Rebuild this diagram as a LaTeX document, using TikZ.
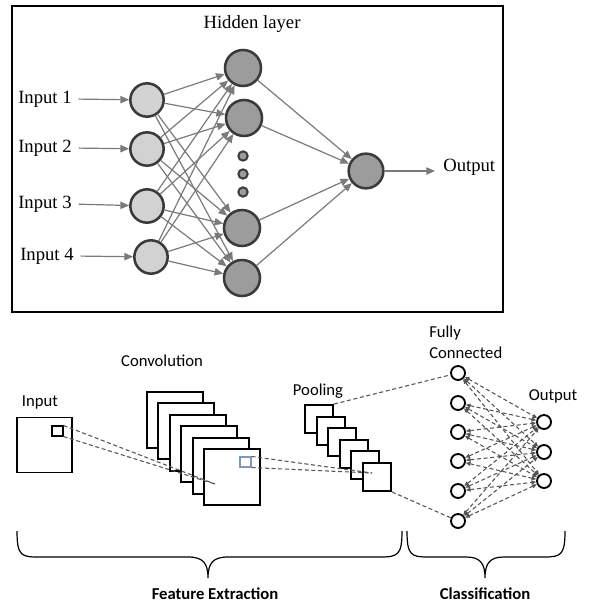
\documentclass[tikz,border=0pt]{standalone}
\usepackage{fontspec}
\setmainfont{Liberation Serif}
\newfontfamily\calfont{Carlito}
\usetikzlibrary{arrows.meta}
\definecolor{edgegray}{HTML}{7A7A7A}
\definecolor{ringgray}{HTML}{3A3A3A}
\definecolor{inpfill}{HTML}{D2D2D2}
\definecolor{hidfill}{HTML}{9C9C9C}
\definecolor{dashgray}{HTML}{555555}
\definecolor{winblue}{HTML}{7F97BA}
\begin{document}
\begin{tikzpicture}[x=0.75pt,y=-0.75pt,
  neuron/.style={circle,draw=ringgray,line width=1.9pt,inner sep=0pt,minimum size=25pt},
  inneuron/.style={neuron,fill=inpfill},
  hidneuron/.style={neuron,fill=hidfill,minimum size=27pt},
  dotneuron/.style={circle,draw=ringgray,line width=1.5pt,fill=hidfill,inner sep=0pt,minimum size=7pt},
  serlabel/.style={inner sep=0pt,font=\fontsize{14}{16}\selectfont},
  edge/.style={draw=edgegray,line width=0.9pt,-{Triangle[length=6.5pt,width=5.5pt]}},
  mapbox/.style={draw=black,fill=white,line width=1.45pt,inner sep=0pt},
  convbox/.style={mapbox,minimum size=42pt},
  poolbox/.style={mapbox,minimum size=21pt},
  winbox/.style={draw,line width=0.8pt,inner sep=0pt,minimum width=8.25pt,minimum height=7.5pt},
  fcnode/.style={circle,draw=black,fill=white,line width=1.4pt,inner sep=0pt,minimum size=10.5pt},
  dline/.style={draw=dashgray,line width=0.8pt,dash pattern=on 3pt off 2pt},
  fcedge/.style={dline,{Triangle[length=3.5pt,width=3pt]}-{Triangle[length=3.5pt,width=3pt]}},
  sanslabel/.style={inner sep=0pt,font=\calfont\fontsize{12.5}{15}\selectfont},
  brace/.style={draw=black,line width=0.9pt}]
\useasboundingbox (0,0) rectangle (589,602);

% ---------- fully connected network ----------
\draw[line width=1.3pt] (12,6) rectangle (503,312);
\node[serlabel] (hl) at (252,24) {Hidden layer};

\node[inneuron] (in1) at (147,100) {};
\node[inneuron] (in2) at (147,149) {};
\node[inneuron] (in3) at (147,206) {};
\node[inneuron] (in4) at (151,257) {};

\node[hidneuron] (hid1) at (243,68) {};
\node[hidneuron] (hid2) at (244,118) {};
\node[hidneuron] (hid3) at (242,228) {};
\node[hidneuron] (hid4) at (242,278) {};
\node[dotneuron] (d1) at (243,156) {};
\node[dotneuron] (d2) at (243,174) {};
\node[dotneuron] (d3) at (243,192) {};

\node[hidneuron,minimum size=26pt] (out) at (366,171) {};

\node[serlabel,anchor=west] (l1) at (18,99) {Input 1};
\node[serlabel,anchor=west] (l2) at (18,148) {Input 2};
\node[serlabel,anchor=west] (l3) at (18,204) {Input 3};
\node[serlabel,anchor=west] (l4) at (20,256) {Input 4};

\foreach \k in {1,...,4}{
  \draw[edge,shorten <=5pt] (l\k.east) -- (in\k);
  \foreach \j in {1,...,4}{
    \draw[edge] (in\k) -- (hid\j);
  }
  \draw[edge] (hid\k) -- (out);
}
\coordinate (outend) at (435,171);
\draw[edge] (out) -- (outend);
\node[serlabel,anchor=west] (olab) at (443,167) {Output};

% ---------- convolutional network ----------
\node[sanslabel] (tin) at (40,402) {Input};
\node[mapbox,minimum size=41.25pt] (img) at (44.5,445) {};
\node[winbox] (win) at (57.5,431) {};

\node[sanslabel] (tconv) at (162,361) {Convolution};
\foreach \i in {0,...,5}{
  \node[convbox] (c\i) at ({175+11.4*\i},{420+11.4*\i}) {};
}
\node[winbox,draw=winblue] (bwin) at (245.5,462) {};

\node[sanslabel] (tpool) at (318,391) {Pooling};
\foreach \i in {0,...,5}{
  \node[poolbox] (p\i) at ({319+11.6*\i},{419+11.6*\i}) {};
}

\coordinate (convA) at (215,484);
\coordinate (poolA) at (372,473);
\draw[dline] (win.north east) -- (convA);
\draw[dline] (win.south east) -- (convA);
\draw[dline] (bwin.north east) -- (poolA);
\draw[dline] (bwin.south east) -- (poolA);

\node[sanslabel,anchor=west] (tfully) at (429,333) {Fully};
\node[sanslabel,anchor=west] (tconn) at (429,353) {Connected};
\node[sanslabel] (tout) at (553,396) {Output};

\foreach \i/\y in {1/373,2/403,3/432,4/461,5/491,6/521}{
  \node[fcnode] (fc\i) at (458,\y) {};
}
\foreach \j/\y in {1/422,2/452,3/481}{
  \node[fcnode] (o\j) at (544,\y) {};
}
\draw[dline] (p0.north east) -- (fc1);
\draw[dline] (p5.south east) -- (fc6);
\foreach \i in {1,...,6}{
  \foreach \j in {1,2,3}{
    \draw[fcedge] (fc\i) -- (o\j);
  }
}

% ---------- braces ----------
\draw[brace] (17,531) .. controls (17,557) and (22,557) .. (40,557) -- (188,557)
  .. controls (203,557) and (208,563) .. (208,578)
  .. controls (208,563) and (213,557) .. (228,557) -- (380,557)
  .. controls (398,557) and (402,555) .. (402,531);
\draw[brace] (407,531) .. controls (407,555) and (411,557) .. (428,557) -- (466,557)
  .. controls (480,557) and (485,563) .. (485,578)
  .. controls (485,563) and (490,557) .. (504,557) -- (544,557)
  .. controls (561,557) and (565,555) .. (565,531);
\node[sanslabel,font=\calfont\bfseries\fontsize{12.5}{15}\selectfont] (tfe) at (215,594) {Feature Extraction};
\node[sanslabel,font=\calfont\bfseries\fontsize{12.5}{15}\selectfont] (tcl) at (485,594) {Classification};
\end{tikzpicture}
\end{document}
